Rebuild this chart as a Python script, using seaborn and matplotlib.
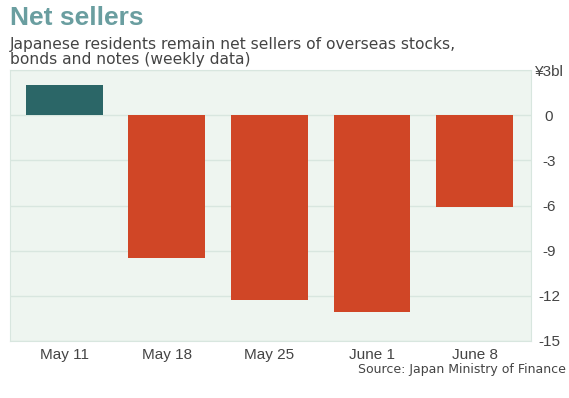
import pandas as pd
import seaborn as sns
import matplotlib.pyplot as plt

semaines = ["May 11", "May 18", "May 25", "June 1", "June 8"]
montants = [2.0, -9.5, -12.3, -13.1, -6.1]
graduations = [3, 0, -3, -6, -9, -12, -15]
etiquettes = ["¥3bl", "0", "-3", "-6", "-9", "-12", "-15"]

VERT = "#2b6667"
ROUGE = "#d04626"
FOND = "#eef5f0"
GRILLE = "#d8e6df"


def main():
    df = pd.DataFrame({"semaine": semaines, "montant": montants})
    df["signe"] = ["pos" if v > 0 else "neg" for v in df["montant"]]

    sns.set_style("white")
    fig = plt.figure(figsize=(5.69, 3.98), dpi=100)
    ax = fig.add_axes([10 / 569, 1 - 341 / 398, 521 / 569, 271 / 398])
    ax.set_facecolor(FOND)

    sns.barplot(data=df, x="semaine", y="montant", hue="signe",
                palette={"pos": VERT, "neg": ROUGE}, dodge=False, saturation=1,
                width=0.75, legend=False, ax=ax, zorder=3)
    for p in ax.patches:
        p.set_edgecolor("none")

    ax.set_ylim(-15, 3)
    ax.set_xlim(-0.53, 4.55)
    ax.set_yticks(graduations)
    ax.set_yticklabels(etiquettes)
    ax.yaxis.tick_right()
    ax.yaxis.grid(True, color=GRILLE, linewidth=1, zorder=0)
    ax.tick_params(axis="both", length=0, labelcolor="#444444")
    ax.tick_params(axis="y", pad=13)
    ax.tick_params(axis="x", pad=5)
    for lab in ax.get_xticklabels() + ax.get_yticklabels():
        lab.set_family("Liberation Sans")
        lab.set_fontsize(11)
    for lab in ax.get_yticklabels():
        lab.set_horizontalalignment("center")
    for s in ax.spines.values():
        s.set_color(GRILLE)
    ax.set_xlabel("")
    ax.set_ylabel("")

    fig.text(10 / 569, 1 - 18 / 398, "Net sellers", fontsize=19, fontweight="bold",
             color="#6a9ea0", family="Liberation Sans", va="center")
    fig.text(10 / 569, 1 - 52 / 398,
             "Japanese residents remain net sellers of overseas stocks,\nbonds and notes (weekly data)",
             fontsize=11.2, color="#444444", va="center", linespacing=1.05)
    fig.text(566 / 569, 1 - 370 / 398, "Source: Japan Ministry of Finance",
             fontsize=9, color="#444444", ha="right", va="center")

    fig.savefig("out.png", dpi=100, facecolor="white")


if __name__ == "__main__":
    main()
